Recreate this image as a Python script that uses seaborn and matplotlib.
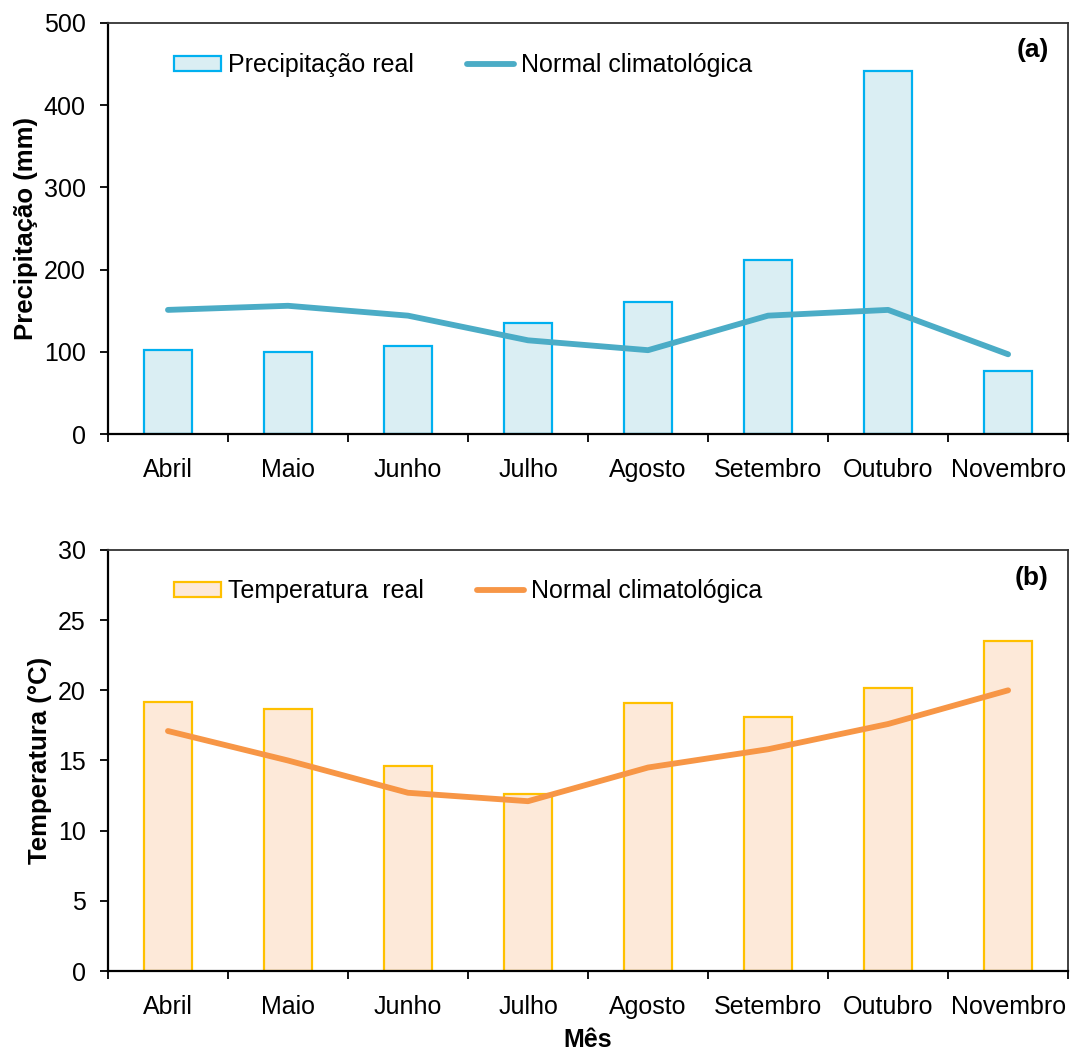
import numpy as np
import pandas as pd
import matplotlib
matplotlib.use("Agg")
import matplotlib.pyplot as plt
from matplotlib.patches import Patch
from matplotlib.lines import Line2D
import seaborn as sns

# Monthly series
meses = ["Abril", "Maio", "Junho", "Julho", "Agosto", "Setembro", "Outubro", "Novembro"]
precip_real = [102, 100, 107, 135, 160, 212, 442, 77]
precip_normal = [151, 156, 144, 114, 102, 144, 151, 97]
temp_real = [19.2, 18.7, 14.6, 12.6, 19.1, 18.1, 20.2, 23.5]
temp_normal = [17.1, 15.0, 12.7, 12.1, 14.5, 15.8, 17.6, 20.0]

sns.set_theme(style="white")
plt.rcParams["font.family"] = ["Liberation Sans", "DejaVu Sans"]
plt.rcParams["text.color"] = "black"
plt.rcParams["axes.labelcolor"] = "black"
plt.rcParams["xtick.color"] = "black"
plt.rcParams["ytick.color"] = "black"

fig = plt.figure(figsize=(10.71, 10.55), dpi=100)
ax1 = fig.add_axes([0.1008, 0.5886, 0.8965, 0.3896])
ax2 = fig.add_axes([0.1008, 0.0796, 0.8965, 0.3991])

panels = [
    dict(ax=ax1, real=precip_real, normal=precip_normal,
         fill="#DAEEF3", edge="#00B0F0", line="#4BACC6",
         ylim=(0, 500), yticks=np.arange(0, 501, 100),
         ylabel="Precipitação (mm)", real_label="Precipitação real", tag="(a)",
         leg_y=0.927, tag_y=0.934),
    dict(ax=ax2, real=temp_real, normal=temp_normal,
         fill="#FDE9D9", edge="#FFC000", line="#F79646",
         ylim=(0, 30), yticks=np.arange(0, 31, 5),
         ylabel="Temperatura (°C)", real_label="Temperatura  real", tag="(b)",
         leg_y=0.930, tag_y=0.933),
]

for p in panels:
    ax = p["ax"]
    df = pd.DataFrame({"mes": meses, "real": p["real"], "normal": p["normal"]})
    sns.barplot(data=df, x="mes", y="real", ax=ax, color=p["fill"],
                edgecolor=p["edge"], linewidth=1.6, width=0.4, saturation=1)
    sns.pointplot(data=df, x="mes", y="normal", ax=ax, color=p["line"],
                  markers="", linestyles="-", linewidth=4.2)
    for ln in ax.lines:
        ln.set_solid_capstyle("round")
        ln.set_solid_joinstyle("round")

    ax.set_xlim(-0.5, len(meses) - 0.5)
    ax.set_ylim(*p["ylim"])
    ax.set_yticks(p["yticks"])
    ax.set_yticklabels([str(v) for v in p["yticks"]], fontsize=18)

    # Tick marks between categories, labels centred on each category
    ax.set_xticks(np.arange(-0.5, len(meses), 1.0))
    ax.set_xticklabels([""] * (len(meses) + 1))
    ax.set_xticks(np.arange(len(meses)), minor=True)
    ax.set_xticklabels(meses, minor=True, fontsize=18)
    ax.tick_params(axis="x", which="major", direction="out", length=6, width=1.3,
                   color="black", bottom=True)
    ax.tick_params(axis="x", which="minor", length=0, pad=17, bottom=True)
    ax.tick_params(axis="y", which="major", direction="out", length=6, width=1.3,
                   color="black", left=True, pad=10)

    for s in ax.spines.values():
        s.set_visible(True)
        s.set_color("#333333")
        s.set_linewidth(1.3)
    ax.spines["left"].set_color("black")
    ax.spines["bottom"].set_color("black")
    ax.spines["left"].set_linewidth(1.6)
    ax.spines["bottom"].set_linewidth(1.6)

    ax.set_xlabel("")
    ax.set_ylabel(p["ylabel"], fontsize=18.5, fontweight="bold", labelpad=4)

    handles = [Patch(facecolor=p["fill"], edgecolor=p["edge"], linewidth=1.6),
               Line2D([0], [0], color=p["line"], linewidth=4.2, solid_capstyle="round")]
    ax.legend(handles, [p["real_label"], "Normal climatológica"], ncol=2,
              loc="upper left", bbox_to_anchor=(0.0687, p["leg_y"]), frameon=False,
              fontsize=18, handlelength=1.9, handleheight=0.56,
              handletextpad=0.28, columnspacing=2.1, borderaxespad=0, borderpad=0)

    ax.text(0.980, p["tag_y"], p["tag"], transform=ax.transAxes, ha="right", va="center",
            fontsize=19, fontweight="bold")

ax2.set_xlabel("Mês", fontsize=18, fontweight="bold", labelpad=7)

fig.savefig("out.png", dpi=100)
